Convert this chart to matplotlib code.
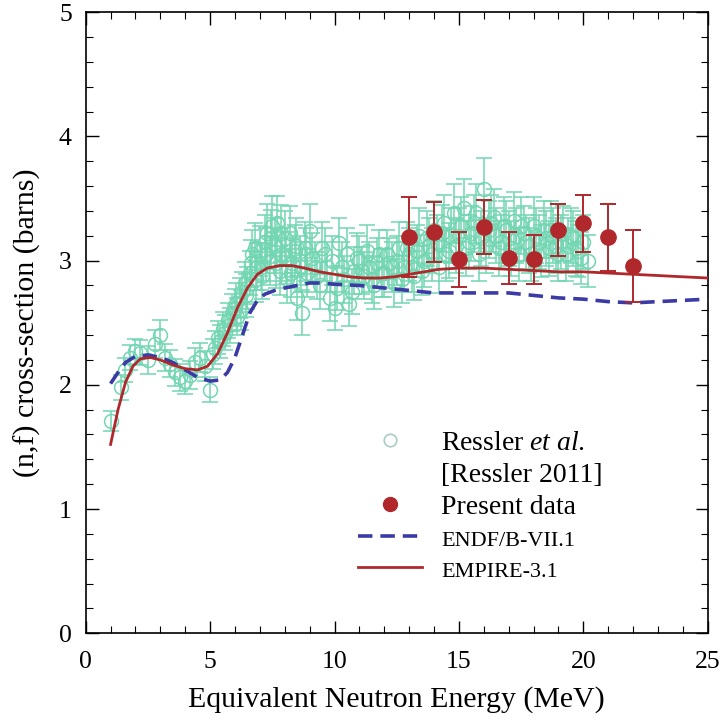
import numpy as np
import matplotlib.pyplot as plt
from matplotlib.lines import Line2D

plt.rcParams['font.family'] = 'Liberation Serif'
plt.rcParams['mathtext.fontset'] = 'custom'
plt.rcParams['mathtext.rm'] = 'Liberation Serif'
plt.rcParams['mathtext.it'] = 'Liberation Serif:italic'

# Ressler et al. 2011 measurement (two interleaved energy grids)
ressler_e = [1.0, 1.4, 1.6, 1.8, 2.0, 2.2, 2.5, 2.8, 3.0, 3.2, 3.4, 3.6, 3.8, 4.0,
             4.2, 4.4, 4.6, 4.8, 5.0, 5.1, 5.2, 5.3, 5.4, 5.5, 5.6, 5.7, 5.8, 5.9,
             6.0, 6.1, 6.2, 6.3, 6.4, 6.5, 6.6, 6.7, 6.8, 6.9, 7.0, 7.1, 7.2, 7.3,
             7.4, 7.5, 7.6, 7.7, 7.8, 7.9, 8.0, 8.1, 8.2, 8.3, 8.4, 8.5, 8.6, 8.7,
             8.8, 8.9, 9.0, 9.2, 9.4, 9.6, 9.8, 10.0, 10.2, 10.4, 10.6, 10.8, 11.0,
             11.2, 11.4, 11.6, 11.8, 12.0, 12.2, 12.4, 12.6, 12.8, 13.0, 13.2, 13.4,
             13.6, 13.8, 14.0, 14.2, 14.4, 14.6, 14.8, 15.0, 15.2, 15.4, 15.6, 15.8,
             16.0, 16.2, 16.4, 16.6, 16.8, 17.0, 17.2, 17.4, 17.6, 17.8, 18.0, 18.2,
             18.4, 18.6, 18.8, 19.0, 19.2, 19.4, 19.6, 19.8, 20.0, 20.2]
ressler_xs = [1.71, 1.98, 2.12, 2.22, 2.27, 2.26, 2.20, 2.33, 2.40, 2.22, 2.17, 2.10,
              2.06, 2.03, 2.08, 2.18, 2.22, 2.15, 1.96, 2.25, 2.30, 2.38, 2.35, 2.45,
              2.42, 2.52, 2.48, 2.58, 2.62, 2.55, 2.70, 2.75, 2.82, 2.78, 2.90, 3.05,
              3.10, 2.95, 3.08, 2.88, 3.15, 3.22, 3.00, 3.28, 3.12, 3.30, 2.92, 3.05,
              3.18, 2.85, 3.22, 2.98, 3.08, 2.70, 3.00, 2.58, 3.10, 2.90, 3.24, 2.95,
              2.80, 3.05, 2.70, 2.62, 3.14, 2.85, 2.65, 2.92, 3.00, 2.88, 2.95, 2.80,
              3.05, 2.90, 2.98, 2.82, 3.10, 2.95, 3.05, 2.88, 3.20, 3.00, 3.12, 3.25,
              2.95, 3.30, 3.08, 3.38, 3.20, 3.42, 3.15, 3.30, 3.05, 3.58, 3.25, 3.35,
              3.10, 3.28, 3.18, 3.32, 3.05, 3.22, 3.12, 3.28, 3.15, 3.25, 3.10, 3.20,
              3.05, 3.22, 3.12, 3.18, 3.08, 3.15, 3.00]
ressler_err = [0.08, 0.10, 0.10, 0.10, 0.10, 0.10, 0.11, 0.11, 0.12, 0.11, 0.11, 0.11,
               0.11, 0.10, 0.11, 0.12, 0.12, 0.12, 0.10, 0.12, 0.13, 0.13, 0.13, 0.14,
               0.14, 0.14, 0.14, 0.15, 0.15, 0.15, 0.16, 0.16, 0.17, 0.17, 0.18, 0.20,
               0.20, 0.19, 0.20, 0.19, 0.22, 0.24, 0.20, 0.24, 0.22, 0.22, 0.20, 0.21,
               0.22, 0.19, 0.22, 0.20, 0.21, 0.18, 0.20, 0.18, 0.21, 0.19, 0.22, 0.20,
               0.19, 0.21, 0.19, 0.18, 0.20, 0.19, 0.18, 0.19, 0.20, 0.19, 0.20, 0.19,
               0.20, 0.19, 0.20, 0.19, 0.21, 0.20, 0.21, 0.20, 0.22, 0.21, 0.22, 0.23,
               0.21, 0.23, 0.22, 0.24, 0.22, 0.24, 0.22, 0.23, 0.21, 0.25, 0.23, 0.23,
               0.22, 0.23, 0.22, 0.23, 0.21, 0.22, 0.22, 0.23, 0.22, 0.23, 0.22, 0.22,
               0.21, 0.22, 0.22, 0.22, 0.21, 0.22, 0.21]

ressler_e2 = [6.05, 6.25, 6.45, 6.65, 6.85, 7.05, 7.25, 7.45, 7.65, 7.85, 8.05, 8.25,
              8.45, 8.65, 8.85, 9.1, 9.3, 9.5, 9.7, 9.9, 10.1, 10.3, 10.5, 10.7, 10.9,
              11.1, 11.3, 11.5, 11.7, 11.9, 12.1, 12.3, 12.5, 12.7, 12.9, 13.1, 13.3,
              13.5, 13.7, 13.9, 14.1, 14.3, 14.5, 14.7, 14.9, 15.1, 15.3, 15.5, 15.7,
              15.9, 16.1, 16.3, 16.5, 16.7, 16.9, 17.1, 17.3, 17.5, 17.7, 17.9, 18.1,
              18.3, 18.5, 18.7, 18.9, 19.1, 19.3, 19.5, 19.7, 19.9]
ressler_xs2 = [2.66, 2.60, 2.72, 2.98, 2.85, 2.95, 3.05, 3.18, 2.98, 3.22, 3.02, 2.90,
               3.12, 2.95, 3.05, 3.02, 2.88, 3.10, 2.95, 3.00, 2.78, 2.95, 3.05, 2.75,
               3.02, 2.92, 3.08, 2.85, 2.98, 2.90, 3.05, 2.95, 3.00, 2.85, 3.10, 2.95,
               3.08, 2.92, 3.18, 3.05, 3.15, 3.22, 3.05, 3.20, 3.12, 3.28, 3.10, 3.22,
               3.38, 3.18, 3.12, 3.30, 3.20, 3.15, 3.25, 3.10, 3.20, 3.28, 3.15, 3.05,
               3.20, 3.08, 3.18, 3.25, 3.12, 3.15, 3.05, 3.20, 3.10, 3.02]
ressler_err2 = [0.16, 0.16, 0.17, 0.19, 0.18, 0.19, 0.21, 0.23, 0.20, 0.23, 0.21, 0.19,
                0.22, 0.20, 0.21, 0.20, 0.19, 0.21, 0.20, 0.20, 0.18, 0.20, 0.21, 0.18,
                0.20, 0.19, 0.21, 0.19, 0.20, 0.19, 0.20, 0.20, 0.20, 0.19, 0.21, 0.20,
                0.21, 0.20, 0.22, 0.21, 0.22, 0.23, 0.21, 0.22, 0.22, 0.23, 0.22, 0.22,
                0.24, 0.22, 0.22, 0.23, 0.22, 0.22, 0.23, 0.22, 0.22, 0.23, 0.22, 0.21,
                0.22, 0.21, 0.22, 0.23, 0.22, 0.22, 0.21, 0.22, 0.22, 0.21]

# present measurement
present_e = [13, 14, 15, 16, 17, 18, 19, 20, 21, 22]
present_xs = [3.19, 3.23, 3.01, 3.27, 3.02, 3.01, 3.25, 3.30, 3.19, 2.96]
present_err = [0.32, 0.24, 0.22, 0.22, 0.21, 0.20, 0.21, 0.23, 0.27, 0.29]

# evaluated / calculated curves
endf_e = [1.0, 1.3, 1.6, 2.0, 2.5, 3.0, 3.5, 4.0, 4.5, 5.0, 5.4, 5.7, 6.0, 6.3, 6.6,
          6.9, 7.2, 7.6, 8.0, 8.5, 9.0, 9.5, 10.0, 11.0, 12.0, 13.0, 14.0, 15.0,
          16.0, 17.0, 18.0, 19.0, 20.0, 21.0, 22.0, 23.0, 24.0, 25.0]
endf_xs = [2.01, 2.10, 2.18, 2.23, 2.24, 2.22, 2.18, 2.12, 2.06, 2.03, 2.04, 2.10,
           2.22, 2.40, 2.58, 2.68, 2.73, 2.76, 2.78, 2.80, 2.82, 2.82, 2.81, 2.80,
           2.78, 2.76, 2.74, 2.74, 2.74, 2.74, 2.72, 2.70, 2.69, 2.67, 2.66, 2.67,
           2.68, 2.69]
empire_e = [1.0, 1.3, 1.6, 1.9, 2.2, 2.6, 3.0, 3.5, 4.0, 4.5, 4.9, 5.3, 5.7, 6.1,
            6.5, 6.9, 7.3, 7.8, 8.3, 8.8, 9.4, 10.0, 10.6, 11.2, 11.8, 12.4, 13.0,
            13.6, 14.2, 15.0, 16.0, 17.0, 18.0, 19.0, 20.0, 21.0, 22.0, 23.0, 24.0, 25.0]
empire_xs = [1.52, 1.80, 2.02, 2.15, 2.21, 2.22, 2.20, 2.16, 2.13, 2.12, 2.15, 2.25,
             2.42, 2.62, 2.78, 2.89, 2.94, 2.96, 2.96, 2.94, 2.91, 2.89, 2.87, 2.86,
             2.86, 2.87, 2.89, 2.91, 2.93, 2.94, 2.94, 2.93, 2.92, 2.91, 2.91, 2.90,
             2.89, 2.88, 2.87, 2.86]

teal = '#72d6b2'
red = '#b0282c'
blue = '#3b3aa6'

fig = plt.figure(figsize=(7.2, 7.22), dpi=100)
ax = fig.add_axes([0.119, 0.123, 0.864, 0.860])

ax.errorbar(ressler_e + ressler_e2, ressler_xs + ressler_xs2, yerr=ressler_err + ressler_err2,
            fmt='o', mfc='none', mec=teal, ms=10, mew=1.1, ecolor=teal, elinewidth=1.1,
            capsize=6, capthick=1.1, zorder=2)
ax.plot(endf_e, endf_xs, color=blue, lw=2.6, dashes=(4, 2.2), zorder=3)
ax.plot(empire_e, empire_xs, color=red, lw=2.0, zorder=4)
ax.errorbar(present_e, present_xs, yerr=present_err, fmt='o', color=red, ms=11,
            ecolor=red, elinewidth=1.4, capsize=6, capthick=1.4, zorder=5)

ax.set_xlim(0, 25)
ax.set_ylim(0, 5)
ax.set_xticks(range(0, 26, 5))
ax.set_xticks(range(0, 26), minor=True)
ax.set_yticks(range(0, 6))
ax.set_yticks(np.arange(0, 5.01, 0.2), minor=True)
ax.tick_params(which='both', direction='in', top=True, right=True, labelsize=18.5)
ax.tick_params(which='major', length=9, width=1.0)
ax.tick_params(which='minor', length=5, width=0.8)
ax.tick_params(axis='x', which='major', pad=13)
ax.tick_params(axis='y', which='major', pad=10)
for s in ax.spines.values():
    s.set_linewidth(1.2)

ax.set_xlabel('Equivalent Neutron Energy (MeV)', fontsize=21.5, labelpad=9)
ax.set_ylabel('(n,f) cross-section (barns)', fontsize=21.5, labelpad=13)

handles = [
    Line2D([], [], ls='none', marker='o', mfc='none', mec='#a9ccc4', ms=9, mew=1.2),
    Line2D([], [], ls='none'),
    Line2D([], [], ls='none', marker='o', color=red, ms=10),
    Line2D([], [], color=blue, lw=2.6, dashes=(4, 2.2)),
    Line2D([], [], color=red, lw=2.0),
]
labels = ['Ressler $\\it{et\\ al.}$', '[Ressler 2011]', 'Present data',
          'ENDF/B-VII.1', 'EMPIRE-3.1']
leg = ax.legend(handles, labels, loc='upper left', bbox_to_anchor=(0.42, 0.345),
                frameon=False, fontsize=20, handlelength=2.3, handletextpad=0.7,
                labelspacing=0.24, borderaxespad=0)
for t in leg.get_texts()[3:]:
    t.set_fontsize(16)

fig.savefig('out.png', dpi=100)
